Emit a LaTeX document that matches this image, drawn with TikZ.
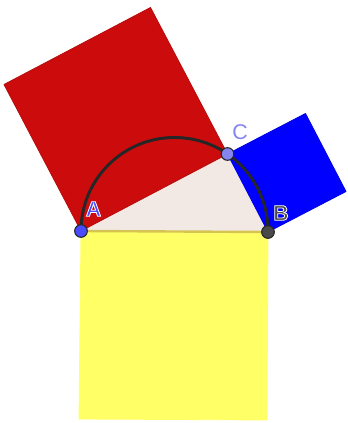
\documentclass[tikz,border=0pt]{standalone}
\usepackage{fontspec}
\setmainfont{Liberation Sans}
\usetikzlibrary{calc}
\definecolor{pyred}{HTML}{CC0C0C}
\definecolor{pyblue}{HTML}{0000FF}
\definecolor{pyyellow}{HTML}{FFFF66}
\definecolor{pygold}{HTML}{D6C452}
\definecolor{pytri}{HTML}{F2E9E4}
\definecolor{pyfree}{HTML}{4A4AFF}
\definecolor{pyon}{HTML}{8585F2}
\definecolor{pyink}{HTML}{4A4A4A}
% letter filled in the current colour, with a white rim stroked over it
\newcommand{\halo}[1]{\special{pdf:literal direct 2 Tr 0.6 w 1 1 1 RG}\textbf{#1}\special{pdf:literal direct 0 Tr}}
\tikzset{
  sq/.style={line width=0.6pt, line join=round},
  redsq/.style={sq, draw=pyred!90!black, fill=pyred},
  bluesq/.style={sq, draw=pyblue!90!black, fill=pyblue},
  yelsq/.style={sq, draw=pyyellow, fill=pyyellow},
  tri/.style={fill=pytri},
  edge/.style={draw=pygold, line width=1.8pt},
  semi/.style={draw=black!85, line width=2.2pt},
  pt/.style={circle, draw=black!85, line width=0.8pt, minimum size=9.5pt, inner sep=0pt},
  lbl/.style={font=\fontsize{16}{16}\selectfont, inner sep=0pt},
}
\begin{document}
\begin{tikzpicture}[x=0.75pt, y=-0.75pt]
    \useasboundingbox (0,0) rectangle (347,423);
    % triangle corners and the outer corners of the squares
    \coordinate (a) at (81,231);
    \coordinate (b) at (268,232);
    \coordinate (c) at (227.5,154);
    \coordinate (ra) at (4,84.5);
    \coordinate (rc) at (150.5,7.5);
    \coordinate (bc) at (305.5,113.5);
    \coordinate (bb) at (346,191.5);
    \coordinate (ya) at (79,419);
    \coordinate (yb) at (267,420);
    \fill[tri] (a) -- (b) -- (c) -- cycle;
    \filldraw[redsq] (a) -- (c) -- (rc) -- (ra) -- cycle;
    \filldraw[bluesq] (c) -- (b) -- (bb) -- (bc) -- cycle;
    \filldraw[yelsq] (a) -- (b) -- (yb) -- (ya) -- cycle;
    \draw[edge] (a) -- (b);
    \draw[semi] (a) arc[start angle=180, end angle=360, radius=93.5];
    \node[pt, fill=pyfree] (A) at (a) {};
    \node[pt, fill=pyink] (B) at (b) {};
    \node[pt, fill=pyon] (C) at (c) {};
    \node[lbl, text=pyfree] (la) at (93.5,209) {\halo{A}};
    \node[lbl, text=pyink] (lb) at (281,213) {\halo{B}};
    \node[lbl, text=pyon] (lc) at (240,132) {C};
  \end{tikzpicture}
\end{document}
